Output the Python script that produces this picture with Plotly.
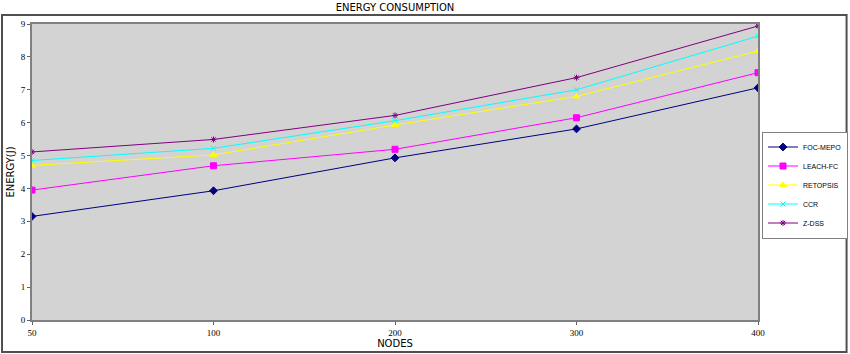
import plotly.graph_objects as go

nodes = ["50", "100", "200", "300", "400"]
foc_mepo = [3.15, 3.93, 4.93, 5.81, 7.06]
leach_fc = [3.95, 4.69, 5.19, 6.15, 7.52]
retopsis = [4.70, 5.02, 5.93, 6.80, 8.18]
ccr = [4.85, 5.22, 6.06, 7.00, 8.63]
z_dss = [5.11, 5.49, 6.22, 7.37, 8.94]

series = [
    ("FOC-MEPO", foc_mepo, "#000080", "diamond", 6),
    ("LEACH-FC", leach_fc, "#FF00FF", "square", 6),
    ("RETOPSIS", retopsis, "#FFFF00", "triangle-up", 6),
    ("CCR", ccr, "#00FFFF", "x-thin", 5),
    ("Z-DSS", z_dss, "#800080", "asterisk", 5),
]

fig = go.Figure()
for name, vals, col, sym, sz in series:
    fig.add_trace(go.Scatter(
        x=nodes, y=vals, name=name, mode="lines+markers",
        line=dict(color=col, width=1),
        marker=dict(color=col, symbol=sym, size=sz, line=dict(color=col, width=1)),
    ))

fig.update_layout(
    width=850, height=354,
    margin=dict(l=32, r=92, t=24, b=34, autoexpand=False),
    paper_bgcolor="white",
    plot_bgcolor="#d3d3d3",
    font=dict(family="DejaVu Sans", size=9, color="black"),
    title=dict(text="ENERGY CONSUMPTION", x=0.5, xref="paper", y=0.99, yanchor="top",
               font=dict(size=10, family="DejaVu Sans"), automargin=False),
    showlegend=True,
    legend=dict(xref="container", yref="container", x=762 / 850, y=(354 - 185) / 354,
                xanchor="left", yanchor="middle",
                bgcolor="white", bordercolor="#808080", borderwidth=1,
                font=dict(size=7, family="Liberation Sans Narrow, Liberation Sans"),
                tracegroupgap=0, itemwidth=30),
    xaxis=dict(type="category", range=[0, 4], showgrid=False, automargin=False,
               showline=True, linecolor="#808080", linewidth=2, mirror=True,
               ticks="outside", ticklen=3, tickcolor="#606060",
               tickfont=dict(family="Liberation Serif", size=9),
               title=dict(text="NODES", font=dict(size=10, family="DejaVu Sans"), standoff=3),
               zeroline=False),
    yaxis=dict(range=[0, 9], dtick=1, showgrid=False, automargin=False,
               showline=True, linecolor="#808080", linewidth=2, mirror=True,
               ticks="outside", ticklen=3, tickcolor="#606060",
               tickfont=dict(family="Liberation Serif", size=9),
               title=dict(text="ENERGY(J)", font=dict(size=10, family="DejaVu Sans"), standoff=4),
               zeroline=False),
)

fig.add_shape(type="rect", xref="paper", yref="paper",
              x0=-0.0413, x1=1.122, y0=-0.108, y1=1.03,
              line=dict(color="#505050", width=2), fillcolor="rgba(0,0,0,0)", layer="above")

fig.write_html("out.html")
